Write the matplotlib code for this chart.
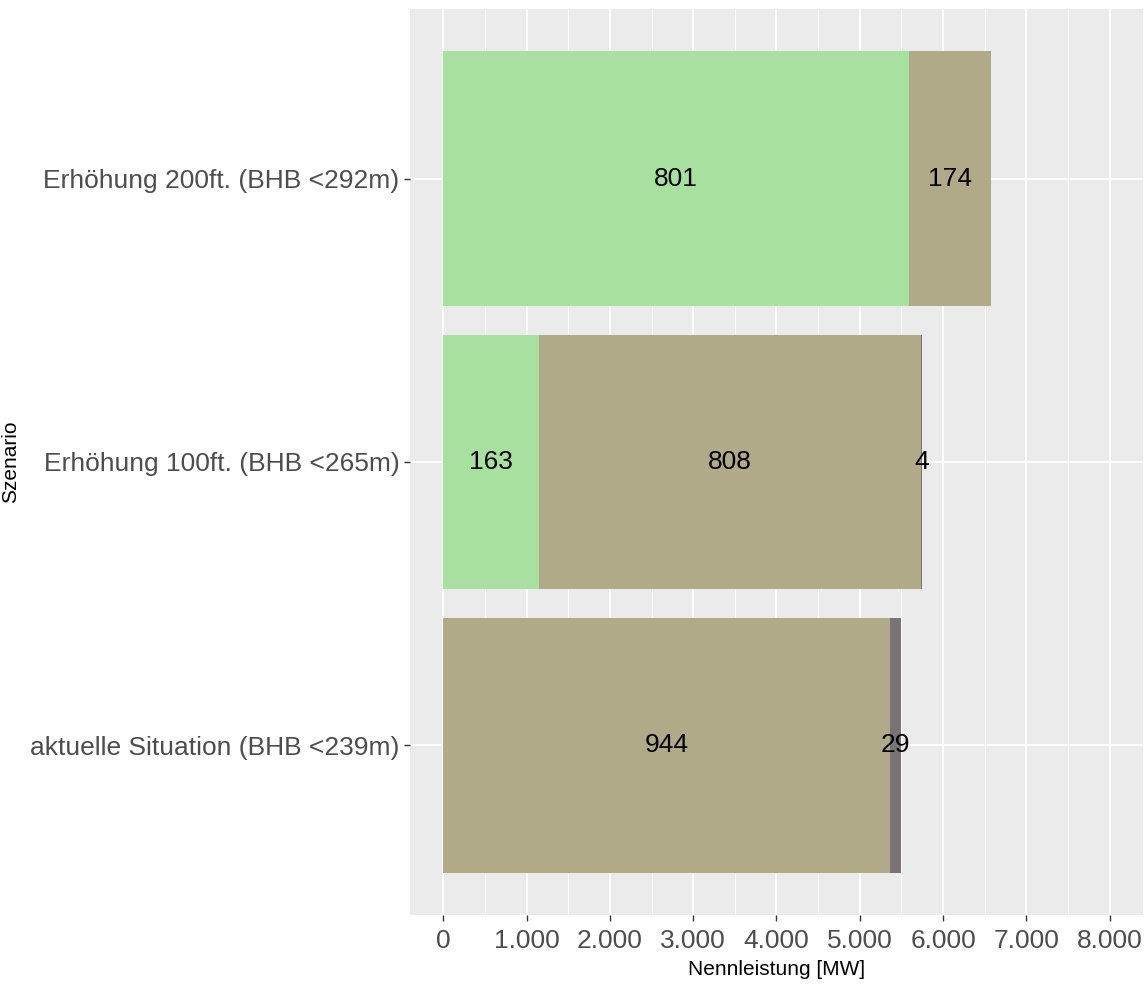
import matplotlib
matplotlib.use("Agg")

import matplotlib.pyplot as plt
from matplotlib.ticker import FuncFormatter, MultipleLocator

plt.rcParams["font.family"] = ["Liberation Sans", "DejaVu Sans"]

# ---------- Data ----------

scenarios = [
    "aktuelle Situation (BHB <239m)",
    "Erhöhung 100ft. (BHB <265m)",
    "Erhöhung 200ft. (BHB <292m)",
]

# installed capacity per segment [MW]
mw_green = [0, 1151, 5588]
mw_tan = [5360, 4580, 991]
mw_dark = [132, 15, 0]

# number of turbines per segment (shown as labels)
n_green = [0, 163, 801]
n_tan = [944, 808, 174]
n_dark = [29, 4, 0]

x_ticks = [0, 1000, 2000, 3000, 4000, 5000, 6000, 7000, 8000]

colors = {"green": "#A8E19F", "tan": "#B0AA88", "dark": "#797376"}

# ---------- Plot ----------

fig = plt.figure(figsize=(11.44, 9.84), dpi=100)
ax = fig.add_axes([0.3584, 0.0701, 0.9991 - 0.3584, 0.9909 - 0.0701])
ax.set_facecolor("#EBEBEB")

ypos = list(range(len(scenarios)))
left = [0] * len(scenarios)
segments = [
    (mw_green, n_green, colors["green"]),
    (mw_tan, n_tan, colors["tan"]),
    (mw_dark, n_dark, colors["dark"]),
]

for values, counts, col in segments:
    ax.barh(ypos, values, left=left, height=0.9, color=col, zorder=3)
    for y, l, v, c in zip(ypos, left, values, counts):
        if c > 0:
            ax.text(l + v / 2, y, str(c), ha="center", va="center",
                    fontsize=19, color="black", zorder=4)
    left = [l + v for l, v in zip(left, values)]

ax.set_xlim(-400, 8400)
ax.set_ylim(-0.6, 2.6)
ax.set_yticks(ypos)
ax.set_yticklabels(scenarios)
ax.set_xticks(x_ticks)
ax.xaxis.set_minor_locator(MultipleLocator(500))
ax.xaxis.set_major_formatter(FuncFormatter(lambda v, p: f"{int(v):,}".replace(",", ".")))

ax.grid(True, which="major", color="white", linewidth=1.4, zorder=0)
ax.grid(True, which="minor", axis="x", color="white", linewidth=0.7, zorder=0)
for s in ax.spines.values():
    s.set_visible(False)

ax.tick_params(axis="both", which="major", labelsize=19, labelcolor="#4D4D4D",
               color="#333333", length=4, width=1)
ax.tick_params(axis="x", which="major", pad=6)
ax.tick_params(axis="both", which="minor", length=0)

ax.set_xlabel("Nennleistung [MW]", fontsize=15, color="black", labelpad=5)
ax.set_ylabel("Szenario", fontsize=15, color="black")
ax.yaxis.set_label_coords(-0.532, 0.5)

fig.savefig("out.png", dpi=100)
